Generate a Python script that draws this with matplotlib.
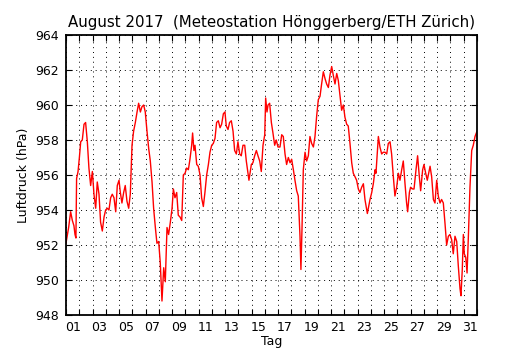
import numpy as np
import matplotlib
matplotlib.use('Agg')
import matplotlib.pyplot as plt

# Zeit in Tagen (1.0 = 1. August 00:00), Luftdruck in hPa
tage = [1.00, 1.20, 1.35, 1.48, 1.60, 1.68, 1.75, 1.80, 1.91, 2.01,
        2.11, 2.23, 2.36, 2.48, 2.61, 2.73, 2.86, 2.99, 3.11, 3.24,
        3.36, 3.49, 3.61, 3.74, 3.87, 3.99, 4.12, 4.24, 4.37, 4.49,
        4.62, 4.75, 4.87, 5.00, 5.10, 5.22, 5.35, 5.47, 5.60, 5.73,
        5.85, 5.98, 6.10, 6.23, 6.36, 6.48, 6.61, 6.73, 6.86, 6.98,
        7.11, 7.24, 7.36, 7.49, 7.61, 7.74, 7.86, 7.99, 8.11, 8.24,
        8.37, 8.49, 8.62, 8.74, 8.87, 9.00, 9.10, 9.22, 9.35, 9.47,
        9.60, 9.73, 9.85, 9.98, 10.10, 10.23, 10.35, 10.48, 10.55, 10.65,
        10.73, 10.86, 10.98, 11.11, 11.23, 11.36, 11.48, 11.61, 11.74, 11.86,
        11.99, 12.11, 12.24, 12.36, 12.49, 12.62, 12.74, 12.87, 12.99, 13.09,
        13.22, 13.34, 13.47, 13.60, 13.72, 13.85, 13.97, 14.10, 14.22, 14.35,
        14.48, 14.60, 14.73, 14.80, 14.98, 15.10, 15.23, 15.36, 15.48, 15.61,
        15.73, 15.86, 15.99, 16.06, 16.16, 16.24, 16.36, 16.49, 16.61, 16.74,
        16.86, 16.99, 17.14, 17.27, 17.39, 17.52, 17.64, 17.77, 17.90, 18.02,
        18.15, 18.27, 18.40, 18.52, 18.65, 18.72, 18.80, 18.90, 19.03, 19.15,
        19.28, 19.40, 19.53, 19.66, 19.78, 19.91, 20.03, 20.16, 20.28, 20.41,
        20.54, 20.66, 20.79, 20.91, 21.04, 21.16, 21.29, 21.42, 21.54, 21.67,
        21.79, 21.92, 22.04, 22.17, 22.29, 22.42, 22.55, 22.67, 22.80, 22.92,
        23.05, 23.17, 23.30, 23.43, 23.55, 23.73, 23.93, 24.06, 24.18, 24.31,
        24.38, 24.56, 24.68, 24.81, 24.93, 25.06, 25.19, 25.31, 25.44, 25.56,
        25.69, 25.81, 25.94, 26.07, 26.19, 26.32, 26.44, 26.57, 26.69, 26.77,
        26.90, 26.99, 27.15, 27.25, 27.40, 27.52, 27.65, 27.75, 27.90, 28.00,
        28.13, 28.25, 28.46, 28.58, 28.71, 28.83, 28.96, 29.08, 29.21, 29.33,
        29.46, 29.59, 29.71, 29.84, 29.96, 30.09, 30.21, 30.34, 30.47, 30.59,
        30.72, 30.79, 30.89, 30.97, 31.04, 31.15, 31.25, 31.35, 31.47, 31.60,
        31.72, 31.85, 32.00]

druck = [952.1, 953.0, 953.9, 953.4, 953.1, 952.6, 952.4, 955.8, 956.2, 957.0,
         957.9, 958.0, 958.9, 959.0, 957.9, 956.4, 955.4, 956.2, 954.9, 954.1,
         955.6, 954.9, 953.3, 952.8, 953.6, 954.0, 954.1, 954.0, 954.7, 954.9,
         954.7, 953.9, 955.4, 955.7, 955.0, 954.4, 955.0, 955.4, 954.5, 954.1,
         954.9, 957.7, 958.5, 959.0, 959.6, 960.1, 959.6, 959.9, 960.0, 959.6,
         958.5, 957.5, 956.8, 955.6, 954.1, 953.0, 952.1, 952.2, 951.0, 948.8,
         950.7, 949.9, 953.0, 952.6, 953.3, 954.1, 955.2, 954.7, 955.0, 953.7,
         953.6, 953.4, 956.0, 956.1, 956.4, 956.3, 956.9, 957.7, 958.4, 957.4,
         957.7, 956.6, 956.5, 956.0, 954.7, 954.2, 955.0, 956.0, 956.6, 957.3,
         957.7, 957.8, 958.1, 959.0, 959.1, 958.7, 958.9, 959.5, 959.6, 958.8,
         958.6, 959.0, 959.1, 958.5, 957.4, 957.2, 957.9, 957.2, 957.1, 957.7,
         957.7, 956.8, 956.1, 955.7, 956.6, 956.7, 957.1, 957.4, 957.1, 956.8,
         956.2, 957.7, 958.3, 960.4, 959.6, 960.0, 960.1, 959.0, 958.4, 957.7,
         958.0, 957.6, 957.6, 958.3, 958.2, 957.2, 956.6, 957.0, 956.7, 956.9,
         956.3, 955.7, 955.1, 954.8, 952.5, 950.6, 952.9, 956.3, 957.3, 956.8,
         957.1, 958.2, 957.8, 957.6, 958.2, 959.4, 960.3, 960.5, 961.2, 961.9,
         961.5, 961.2, 961.0, 961.7, 962.2, 961.7, 961.2, 961.8, 961.4, 960.5,
         959.7, 960.0, 959.3, 958.9, 958.8, 957.8, 956.7, 956.1, 955.9, 955.7,
         955.2, 955.0, 955.3, 955.5, 954.6, 953.8, 954.6, 955.0, 955.5, 956.3,
         956.1, 958.2, 957.6, 957.2, 957.3, 957.3, 957.2, 957.8, 957.9, 957.2,
         955.9, 954.8, 955.3, 956.1, 955.7, 956.3, 956.8, 955.5, 954.4, 953.9,
         955.0, 955.3, 955.2, 955.2, 956.3, 957.1, 955.9, 955.1, 956.3, 956.6,
         956.1, 955.7, 956.5, 955.9, 954.6, 954.4, 955.7, 954.8, 954.4, 954.6,
         954.4, 953.2, 952.0, 952.5, 952.6, 952.3, 951.5, 952.5, 952.2, 950.8,
         949.5, 949.1, 950.6, 952.6, 951.5, 951.3, 950.4, 952.5, 955.3, 957.4,
         957.7, 958.2, 958.5]

tag_labels = ['%02d' % d for d in range(1, 32, 2)]

fig = plt.figure(figsize=(5.3, 3.5), dpi=100)
ax = fig.add_axes([0.1245, 0.1, 0.7755, 0.8])

ax.plot(tage, druck, color='red', linewidth=1.0)

ax.set_xlim(1, 32)
ax.set_ylim(948, 964)

# Tagesgrenzen als Striche und Gitter, Beschriftung in der Tagesmitte
ax.set_xticks(np.arange(1, 33))
ax.set_xticklabels([])
ax.set_xticks(np.arange(1, 32, 2) + 0.5, minor=True)
ax.set_xticklabels(tag_labels, minor=True)
ax.set_yticks(np.arange(948, 965, 2))

ax.tick_params(which='major', direction='in', length=4, width=0.8,
               top=True, right=True, labelsize=9)
ax.tick_params(which='minor', length=0, labelsize=9, pad=4)
ax.tick_params(axis='y', pad=5)
ax.grid(True, which='major', color='k', linestyle=(0, (1, 4)), linewidth=0.7)

for s in ax.spines.values():
    s.set_linewidth(1.3)

ax.set_xlabel('Tag', fontsize=9, labelpad=1)
ax.set_ylabel('Luftdruck (hPa)', fontsize=9)
ax.set_title('August 2017  (Meteostation Hönggerberg/ETH Zürich)', fontsize=10.8)

fig.savefig('out.png', dpi=100)
